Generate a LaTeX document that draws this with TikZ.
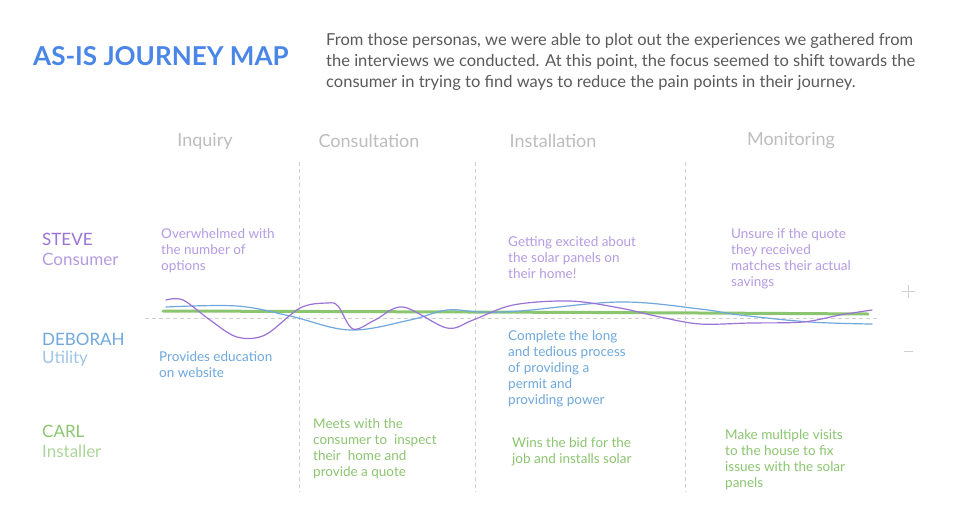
\documentclass[tikz,border=0pt]{standalone}
\usepackage{fontspec}
\setmainfont{Lato}
\definecolor{ttlblue}{HTML}{4A86E8}
\definecolor{desc}{HTML}{5A5A5A}
\definecolor{hdr}{HTML}{BDBDBD}
\definecolor{pur}{HTML}{9B72D6}
\definecolor{purl}{HTML}{B59BE2}
\definecolor{blu}{HTML}{6FA8DC}
\definecolor{blul}{HTML}{9FC5E8}
\definecolor{grn}{HTML}{8CC570}
\definecolor{grnl}{HTML}{ACD69A}
\definecolor{gridc}{HTML}{D0D0D0}
\tikzset{
  x=1pt,y=-1pt,
  body/.style={inner sep=0pt, anchor=west, align=left, font=\fontsize{13.5}{16}\selectfont},
  hdrtxt/.style={inner sep=0pt, text=hdr, font=\fontsize{18}{20}\selectfont},
  pname/.style={inner sep=0pt, anchor=west, font=\fontsize{17}{20}\selectfont},
  grid/.style={draw=gridc, dashed, dash pattern=on 4pt off 3pt, line width=0.8pt},
  curve/.style={line width=1.2pt, line cap=round}
}
\begin{document}
\begin{tikzpicture}
\useasboundingbox[fill=white] (0,0) rectangle (960,504);
% title and description
\node[inner sep=0pt, anchor=west, text=ttlblue, font=\fontsize{26}{30}\selectfont\bfseries] (title) at (33,56) {AS-IS JOURNEY MAP};
\node[inner sep=0pt, anchor=west, align=left, text=desc, font=\fontsize{16.5}{21}\selectfont] (desc) at (326,62) {From those personas, we were able to plot out the experiences we gathered from\\the interviews we conducted. At this point, the focus seemed to shift towards the\\consumer in trying to find ways to reduce the pain points in their journey.};
% column headers
\node[hdrtxt] (h1) at (205,141) {Inquiry};
\node[hdrtxt] (h2) at (369,141) {Consultation};
\node[hdrtxt] (h3) at (553,141) {Installation};
\node[hdrtxt] (h4) at (791,141) {Monitoring};
% grid lines
\coordinate (v1t) at (299,162); \coordinate (v1b) at (299,492);
\coordinate (v2t) at (475,162); \coordinate (v2b) at (475,492);
\coordinate (v3t) at (685,162); \coordinate (v3b) at (685,492);
\coordinate (hl) at (145,318); \coordinate (hr) at (880,318);
\draw[grid] (v1t) -- (v1b);
\draw[grid] (v2t) -- (v2b);
\draw[grid] (v3t) -- (v3b);
\draw[grid] (hl) -- (hr);
% plus / minus
\coordinate (pl) at (902,291); \coordinate (pr) at (915,291);
\coordinate (pt) at (908.5,284.5); \coordinate (pb) at (908.5,297.5);
\draw[gridc, line width=0.8pt] (pl) -- (pr) (pt) -- (pb);
\coordinate (ml) at (904,351); \coordinate (mr) at (913,351);
\draw[gridc, line width=0.8pt] (ml) -- (mr);
% personas
\node[pname, text=pur] (steve) at (42,239) {STEVE};
\node[pname, text=purl] (steveR) at (42,259) {Consumer};
\node[pname, text=blu] (deb) at (42,339) {DEBORAH};
\node[pname, text=blul] (debR) at (42,359) {Utility};
\node[pname, text=grn] (carl) at (42,431) {CARL};
\node[pname, text=grnl] (carlR) at (42,451) {Installer};
% Steve notes
\node[body, text=purl] (s1) at (161,251) {Overwhelmed with\\the number of\\options};
\node[body, text=purl] (s3) at (508,258) {Getting excited about\\the solar panels on\\their home!};
\node[body, text=purl] (s4) at (731,259) {Unsure if the quote\\they received\\matches their actual\\savings};
% Deborah notes
\node[body, text=blu] (d1) at (159,365) {Provides education\\on website};
\node[body, text=blu] (d3) at (508,369) {Complete the long\\and tedious process\\of providing a\\permit and\\providing power};
% Carl notes
\node[body, text=grn] (c2) at (313,449) {Meets with the\\consumer to\ \ inspect\\their\ \ home and\\provide a quote};
\node[body, text=grn] (c3) at (512,452) {Wins the bid for the\\job and installs solar};
\node[body, text=grn] (c4) at (725,460) {Make multiple visits\\to the house to fix\\issues with the solar\\panels};
% curves
\draw[grn, line width=3pt, line cap=round] plot[smooth, tension=0.6] coordinates {(163,311) (470,312) (700,313) (868,314)};
\draw[curve, blu] plot[smooth, tension=0.6] coordinates {(166,307) (237,306) (290,316) (350,330) (410,320) (447,310) (480,312) (520,311) (620,302) (700,309) (740,315) (810,322) (872,324)};
\draw[curve, pur] plot[smooth, tension=0.55] coordinates {(166,300) (183,300) (210,320) (237,337) (265,335) (300,308) (327,303) (338,306) (353,329) (375,320) (403,307) (447,328) (473,320) (513,305) (570,301) (620,308) (660,317) (700,324) (750,323) (803,322) (840,315) (872,310)};
\end{tikzpicture}
\end{document}
